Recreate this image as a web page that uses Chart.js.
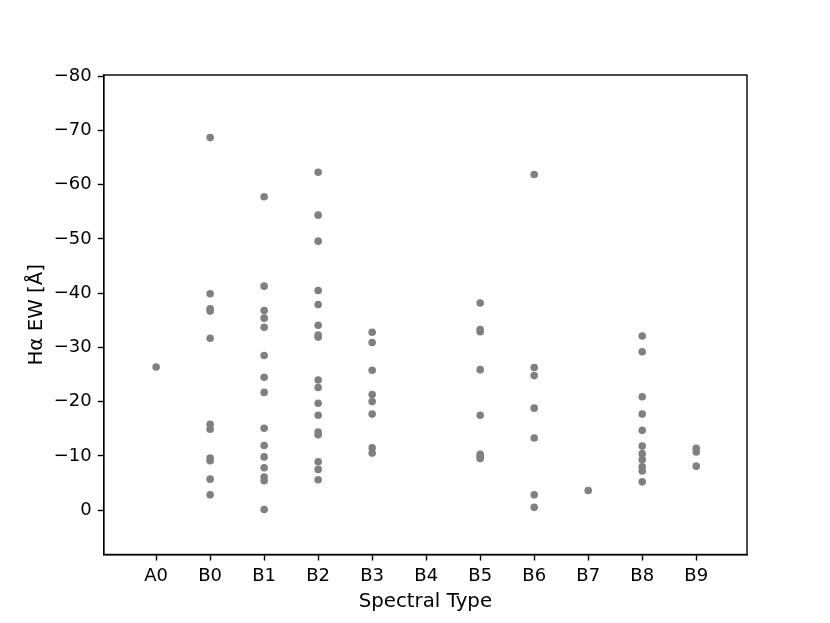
<!DOCTYPE html>
<html>
<head>
<meta charset="utf-8">
<script src="https://cdn.jsdelivr.net/npm/chart.js@4/dist/chart.umd.min.js"></script>
<style>
  html, body { margin: 0; padding: 0; background: #fff; }
  #wrap { width: 830px; height: 623px; }
</style>
</head>
<body>
<div id="wrap"><canvas id="c" width="830" height="623"></canvas></div>
<script>
// Categories (spectral types) and tick labels
const categories = ['A0', 'B0', 'B1', 'B2', 'B3', 'B4', 'B5', 'B6', 'B7', 'B8', 'B9'];
const yTickValues = [-80, -70, -60, -50, -40, -30, -20, -10, 0];

// H-alpha equivalent widths [Å] per spectral type
const ewA0 = [-26.4];
const ewB0 = [-68.7, -39.9, -37.1, -36.7, -31.7, -15.8, -14.9, -9.6, -9.1, -5.7, -2.8];
const ewB1 = [-57.8, -41.3, -36.8, -35.4, -33.7, -28.5, -24.5, -21.7, -15.1, -11.9, -9.8, -7.8, -6.1, -5.4, -0.1];
const ewB2 = [-62.3, -54.4, -49.6, -40.5, -37.9, -34.1, -32.3, -31.9, -24.0, -22.6, -19.7, -17.5, -14.4, -13.9, -8.9, -7.5, -5.6];
const ewB3 = [-32.8, -30.9, -25.8, -21.3, -20.0, -17.7, -11.5, -10.5];
const ewB4 = [];
const ewB5 = [-38.2, -33.3, -32.9, -25.9, -17.5, -10.3, -9.9, -9.5];
const ewB6 = [-61.9, -26.3, -24.8, -18.8, -13.3, -2.8, -0.5];
const ewB7 = [-3.6];
const ewB8 = [-32.1, -29.2, -20.9, -17.7, -14.7, -11.8, -10.4, -9.3, -8.0, -7.2, -5.2];
const ewB9 = [-11.4, -10.7, -8.1];

const seriesByType = [ewA0, ewB0, ewB1, ewB2, ewB3, ewB4, ewB5, ewB6, ewB7, ewB8, ewB9];

const points = [];
seriesByType.forEach((vals, i) => vals.forEach(v => points.push({ x: i, y: v })));

const FONT = "'DejaVu Sans', sans-serif";

const framePlugin = {
  id: 'frame',
  afterDatasetsDraw(chart) {
    const { ctx, chartArea: a } = chart;
    ctx.save();
    ctx.strokeStyle = '#000';
    ctx.lineWidth = 1.4;
    ctx.strokeRect(a.left, a.top, a.right - a.left, a.bottom - a.top);
    ctx.restore();
  }
};

new Chart(document.getElementById('c'), {
  type: 'scatter',
  data: {
    datasets: [{
      data: points,
      backgroundColor: '#808080',
      borderWidth: 0,
      pointRadius: 3.8,
      pointHoverRadius: 3.8
    }]
  },
  options: {
    responsive: false,
    devicePixelRatio: 1,
    animation: false,
    layout: { padding: { left: 0, top: 75, right: 83, bottom: 0 } },
    plugins: { legend: { display: false }, tooltip: { enabled: false } },
    scales: {
      x: {
        type: 'linear',
        min: -0.97,
        max: 10.94,
        afterBuildTicks(scale) { scale.ticks = categories.map((c, i) => ({ value: i })); },
        afterFit(scale) { scale.height = 68.5; },
        ticks: {
          callback: (v) => categories[v] ?? '',
          color: '#000',
          font: { family: FONT, size: 18 },
          padding: 5,
          maxRotation: 0,
          autoSkip: false
        },
        grid: { drawOnChartArea: false, drawTicks: true, tickLength: 6, tickWidth: 1.4, tickColor: '#000', color: '#000' },
        border: { display: true, color: '#000', width: 1.4 },
        title: {
          display: true,
          text: 'Spectral Type',
          color: '#000',
          font: { family: FONT, size: 19.8 },
          padding: { top: 0, bottom: 9.5 }
        }
      },
      y: {
        type: 'linear',
        reverse: true,
        min: -80.25,
        max: 8.2,
        afterBuildTicks(scale) { scale.ticks = yTickValues.map(v => ({ value: v })); },
        afterFit(scale) { scale.width = 103.75; },
        ticks: {
          callback: (v) => (v < 0 ? '\u2212' + Math.abs(v) : String(v)),
          color: '#000',
          font: { family: FONT, size: 18 },
          padding: 6,
          autoSkip: false
        },
        grid: { drawOnChartArea: false, drawTicks: true, tickLength: 6, tickWidth: 1.4, tickColor: '#000', color: '#000' },
        border: { display: true, color: '#000', width: 1.4 },
        title: {
          display: true,
          text: 'H\u03B1 EW [\u00C5]',
          color: '#000',
          font: { family: FONT, size: 19.8 },
          padding: { top: 24.5, bottom: 0 }
        }
      }
    }
  },
  plugins: [framePlugin]
});
</script>
</body>
</html>
